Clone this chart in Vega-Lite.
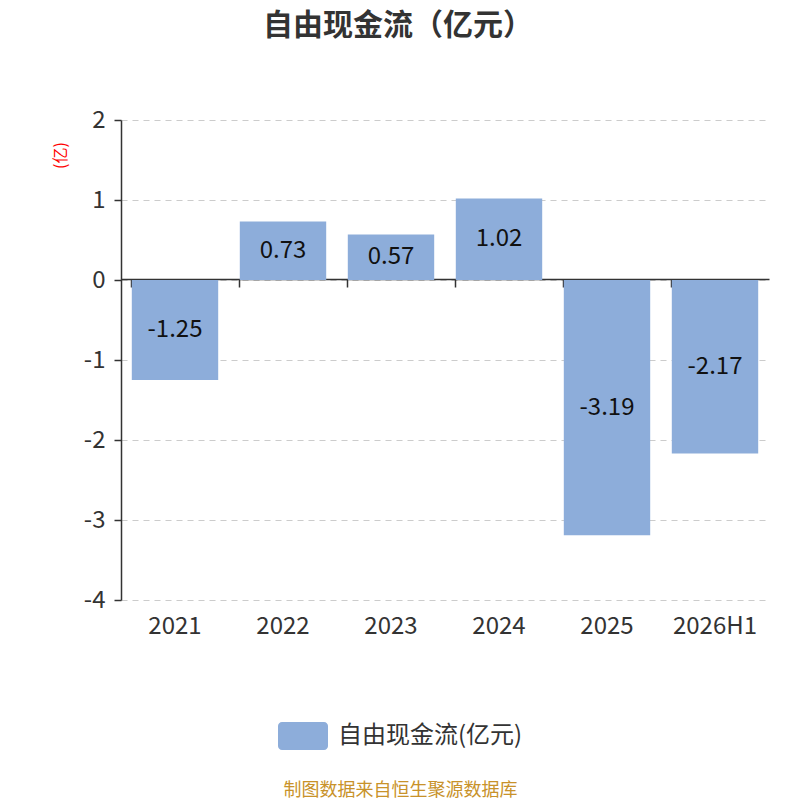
{
  "$schema": "https://vega.github.io/schema/vega-lite/v6.json",
  "autosize": {"type": "none"},
  "padding": {"left": 121, "top": 120, "right": 31, "bottom": 200},
  "width": 648,
  "height": 480,
  "background": "white",
  "title": {
    "text": "自由现金流（亿元）",
    "font": "Noto Sans CJK SC",
    "fontSize": 30,
    "fontWeight": "bold",
    "color": "#333333",
    "anchor": "middle",
    "dx": -47,
    "offset": 67
  },
  "config": {
    "font": "Noto Sans CJK SC",
    "view": {"stroke": null}
  },
  "data": {
    "values": [
      {"year": "2021", "v": -1.25},
      {"year": "2022", "v": 0.73},
      {"year": "2023", "v": 0.57},
      {"year": "2024", "v": 1.02},
      {"year": "2025", "v": -3.19},
      {"year": "2026H1", "v": -2.17}
    ]
  },
  "resolve": {"axis": {"x": "independent"}},
  "layer": [
    {
      "mark": {"type": "bar", "color": "#8dadda"},
      "encoding": {
        "x": {
          "field": "year",
          "type": "nominal",
          "sort": null,
          "scale": {"paddingInner": 0.2, "paddingOuter": 0.1},
          "axis": {
            "orient": "bottom",
            "domain": false,
            "ticks": false,
            "grid": false,
            "labelAngle": 0,
            "labelFontSize": 24,
            "labelColor": "#333333",
            "labelPadding": 14,
            "title": "制图数据来自恒生聚源数据库",
            "titleColor": "#c8922a",
            "titleFontSize": 18,
            "titleFontWeight": "normal",
            "titleX": 279,
            "titleY": 190,
            "titleAlign": "center",
            "titleBaseline": "middle"
          }
        },
        "y": {
          "field": "v",
          "type": "quantitative",
          "scale": {"domain": [-4, 2], "nice": false},
          "axis": {
            "values": [-4, -3, -2, -1, 0, 1, 2],
            "labelExpr": "'' + datum.value",
            "domainColor": "#333333",
            "domainWidth": 1.5,
            "tickColor": "#333333",
            "tickSize": 7,
            "tickWidth": 1.5,
            "labelFontSize": 24,
            "labelColor": "#333333",
            "labelPadding": 9,
            "gridColor": "#cccccc",
            "gridDash": [6, 5],
            "gridWidth": 1.2,
            "title": "(亿)",
            "titleColor": "#ff0000",
            "titleFontSize": 16,
            "titleFontWeight": "normal",
            "titleX": -61,
            "titleY": 35,
            "titleAlign": "center",
            "titleBaseline": "middle"
          }
        },
        "color": {
          "datum": "自由现金流(亿元)",
          "scale": {"range": ["#8dadda"]},
          "legend": {
            "title": null,
            "orient": "none",
            "legendX": 157,
            "legendY": 591,
            "symbolType": "M-0.84,-0.56 H0.84 A0.16,0.16 0 0 1 1,-0.4 V0.4 A0.16,0.16 0 0 1 0.84,0.56 H-0.84 A0.16,0.16 0 0 1 -1,0.4 V-0.4 A0.16,0.16 0 0 1 -0.84,-0.56 Z",
            "symbolSize": 2500,
            "symbolStrokeWidth": 0,
            "symbolOpacity": 1,
            "labelFontSize": 24,
            "labelColor": "#333333",
            "labelOffset": 10,
            "labelLimit": 400
          }
        }
      }
    },
    {
      "transform": [{"calculate": "datum.v / 2", "as": "mid"}],
      "mark": {"type": "text", "fontSize": 24, "color": "#111111", "baseline": "middle", "align": "center"},
      "encoding": {
        "x": {
          "field": "year",
          "type": "nominal",
          "sort": null,
          "scale": {"paddingInner": 0.2, "paddingOuter": 0.1},
          "axis": {
            "orient": "bottom",
            "offset": -321,
            "domainColor": "#333333",
            "domainWidth": 1.5,
            "tickColor": "#333333",
            "tickWidth": 1.5,
            "tickSize": 8,
            "bandPosition": 0,
            "labels": false,
            "grid": false,
            "title": null
          }
        },
        "y": {"field": "mid", "type": "quantitative"},
        "text": {"field": "v", "type": "nominal"}
      }
    }
  ]
}
